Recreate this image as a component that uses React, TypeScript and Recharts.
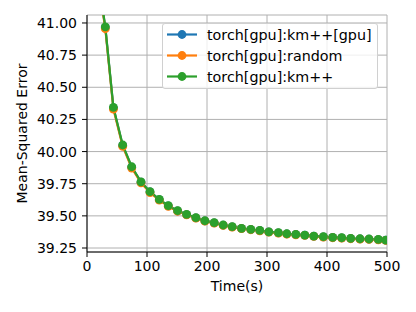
import { LineChart, Line, XAxis, YAxis, CartesianGrid } from 'recharts';

// elapsed time per iteration (s)
const times = [15, 30.5, 44, 59.5, 74.5, 90, 105, 120.5, 135.5, 151, 166, 181.5, 196.5, 212, 227, 242, 257.5, 273, 288, 303, 319, 333, 348, 363, 378, 394, 409.5, 424.5, 439.5, 455, 470, 485.5, 498];

const kmppGpu = [41.45, 40.965, 40.34, 40.048, 39.879, 39.762, 39.686, 39.626, 39.577, 39.538, 39.51, 39.484, 39.461, 39.446, 39.428, 39.415, 39.402, 39.394, 39.386, 39.375, 39.368, 39.36, 39.355, 39.35, 39.342, 39.337, 39.332, 39.329, 39.324, 39.321, 39.319, 39.316, 39.311];
const random = [41.44, 40.955, 40.33, 40.04, 39.872, 39.757, 39.681, 39.622, 39.574, 39.536, 39.508, 39.482, 39.459, 39.444, 39.426, 39.413, 39.4, 39.392, 39.384, 39.373, 39.366, 39.358, 39.353, 39.348, 39.34, 39.335, 39.33, 39.327, 39.322, 39.319, 39.317, 39.314, 39.309];
const kmpp = [41.46, 40.97, 40.344, 40.051, 39.882, 39.765, 39.688, 39.628, 39.579, 39.54, 39.512, 39.486, 39.462, 39.447, 39.429, 39.416, 39.403, 39.395, 39.387, 39.376, 39.369, 39.361, 39.356, 39.351, 39.343, 39.338, 39.333, 39.33, 39.325, 39.322, 39.32, 39.317, 39.312];

const xTicks = [0, 100, 200, 300, 400, 500];
const yTicks = [39.25, 39.5, 39.75, 40.0, 40.25, 40.5, 40.75, 41.0];

const seriesNames = ['torch[gpu]:km++[gpu]', 'torch[gpu]:random', 'torch[gpu]:km++'];
const seriesColors = ['#1f77b4', '#ff7f0e', '#2ca02c'];

const data = times.map((t, i) => ({ t, a: kmppGpu[i], b: random[i], c: kmpp[i] }));

const FONT = '"DejaVu Sans", sans-serif';
const tickStyle = { fontSize: 14, fill: '#000', fontFamily: FONT };

function LegendBox() {
  return (
    <div
      style={{
        position: 'absolute',
        left: 162,
        top: 23,
        width: 216,
        height: 66,
        background: 'rgba(255,255,255,0.8)',
        border: '1px solid #d0d0d0',
        borderRadius: 3,
        boxSizing: 'border-box',
      }}
    >
      <svg width={216} height={66} style={{ position: 'absolute', left: -1, top: -1 }}>
        {seriesNames.map((name, i) => {
          const y = 11.5 + i * 21;
          return (
            <g key={name}>
              <line x1={5} x2={35} y1={y} y2={y} stroke={seriesColors[i]} strokeWidth={2.2} />
              <circle cx={20} cy={y} r={4.4} fill={seriesColors[i]} />
              <text x={45} y={y + 5} fontSize={14.3} fontFamily={FONT} fill="#000">
                {name}
              </text>
            </g>
          );
        })}
      </svg>
    </div>
  );
}

export default function App() {
  const dot = (c: string) => ({ r: 4.4, fill: c, stroke: c, strokeWidth: 0 });
  return (
    <div style={{ position: 'absolute', left: 0, top: 0, width: 416, height: 312, background: '#fff' }}>
      <LineChart width={416} height={312} data={data} margin={{ top: 15, right: 29, bottom: 0, left: 0 }}>
        <CartesianGrid stroke="#b0b0b0" strokeWidth={1} />
        <XAxis
          dataKey="t"
          type="number"
          domain={[0, 500]}
          ticks={xTicks}
          allowDataOverflow
          stroke="#000"
          tick={tickStyle}
          tickSize={5}
          tickMargin={4}
          height={60}
          label={{
            content: ({ viewBox }: any) => (
              <text x={viewBox.x + viewBox.width / 2} y={290.5} textAnchor="middle" fontSize={14} fontFamily={FONT} fill="#000">
                Time(s)
              </text>
            ),
          }}
        />
        <XAxis xAxisId="top" orientation="top" type="number" domain={[0, 500]} height={0} tick={false} tickLine={false} stroke="#000" />
        <YAxis
          type="number"
          domain={[39.219, 41.062]}
          ticks={yTicks}
          allowDataOverflow
          width={87}
          stroke="#000"
          tick={tickStyle}
          tickSize={5}
          tickMargin={5}
          tickFormatter={(v: number) => v.toFixed(2)}
          label={{
            content: ({ viewBox }: any) => {
              const cx = 22;
              const cy = viewBox.y + viewBox.height / 2;
              return (
                <text x={cx} y={cy} transform={`rotate(-90 ${cx} ${cy})`} textAnchor="middle" dominantBaseline="central" fontSize={14} fontFamily={FONT} fill="#000">
                  Mean-Squared Error
                </text>
              );
            },
          }}
        />
        <YAxis yAxisId="right" orientation="right" type="number" domain={[0, 1]} width={0} tick={false} tickLine={false} stroke="#000" />
        <Line dataKey="a" name={seriesNames[0]} stroke={seriesColors[0]} strokeWidth={2.2} dot={dot(seriesColors[0])} isAnimationActive={false} />
        <Line dataKey="b" name={seriesNames[1]} stroke={seriesColors[1]} strokeWidth={2.2} dot={dot(seriesColors[1])} isAnimationActive={false} />
        <Line dataKey="c" name={seriesNames[2]} stroke={seriesColors[2]} strokeWidth={2.2} dot={dot(seriesColors[2])} isAnimationActive={false} />
      </LineChart>
      <LegendBox />
    </div>
  );
}
